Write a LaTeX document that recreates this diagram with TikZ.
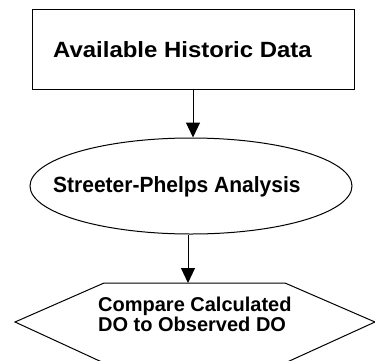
\documentclass[tikz,border=0pt]{standalone}
\usepackage{fontspec}
\setmainfont{Liberation Sans}
\usetikzlibrary{shapes.geometric,arrows.meta}
\begin{document}
\begin{tikzpicture}[x=1pt,y=-1pt,
  shapeline/.style={draw=black,line width=1pt},
  lbl/.style={inner sep=0pt,anchor=base west,font=\bfseries},
  conn/.style={line width=1pt,-{Triangle[width=14pt,length=15pt]}}]
\useasboundingbox (0,0) rectangle (375,360);
\node[shapeline,rectangle,minimum width=322pt,minimum height=80pt,inner sep=0pt] (box) at (193,49) {};
\node[shapeline,ellipse,minimum width=322pt,minimum height=96pt,inner sep=0pt] (ell) at (191,186) {};
\coordinate (hexL) at (15,322);
\coordinate (hexTL) at (104,283);
\coordinate (hexTR) at (285,283);
\coordinate (hexR) at (375,322);
\coordinate (hexBR) at (285,363);
\coordinate (hexBL) at (104,363);
\draw[line width=1pt] (hexL) -- (hexTL) -- (hexTR) -- (hexR) -- (hexBR) -- (hexBL) -- cycle;
\coordinate (hexTop) at (188,283);
\node[lbl] (t1) at (53,57) {\fontsize{21}{21}\selectfont\scalebox{1.14}[1.05]{Available Historic Data}};
\node[lbl] (t2) at (53,192) {\fontsize{21}{21}\selectfont\scalebox{1}[1.05]{Streeter-Phelps Analysis}};
\node[lbl,align=left,font=\bfseries\fontsize{20}{20}\selectfont] (t3) at (98,331) {Compare Calculated\\DO to Observed DO};
\draw[conn] (box.south) -- (box.south |- ell.north);
\draw[conn] ([xshift=-3pt]ell.south) -- (hexTop);
\end{tikzpicture}
\end{document}
